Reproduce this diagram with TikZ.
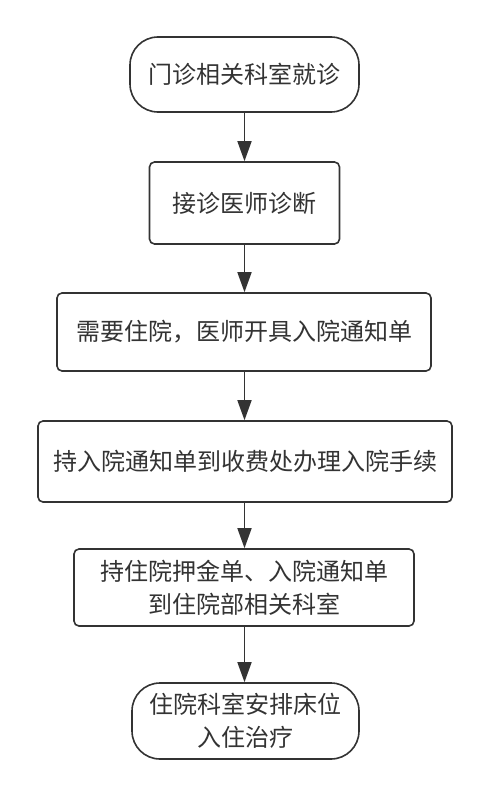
\documentclass[tikz,border=0pt]{standalone}
\usepackage{fontspec}
\setmainfont{Noto Sans CJK SC}
\usetikzlibrary{arrows.meta}
\definecolor{ink}{HTML}{333333}
\begin{document}
\begin{tikzpicture}[x=1pt,y=-1pt,
  base/.style={draw=ink, line width=1.6pt, fill=white, text=ink, align=center,
    font=\fontsize{24}{33}\selectfont, inner sep=0pt},
  term/.style={base, rounded corners=28pt},
  proc/.style={base, rounded corners=5pt},
  flow/.style={draw=ink, line width=1.6pt, -{Triangle[length=20pt,width=14pt]}}]
\path[use as bounding box, fill=white] (0,0) rectangle (489,797);
\node[term, minimum width=229pt, minimum height=75pt] (n1) at (244.5,74.5) {门诊相关科室就诊};
\node[proc, minimum width=190pt, minimum height=82pt] (n2) at (244.5,203) {接诊医师诊断};
\node[proc, minimum width=374pt, minimum height=78pt] (n3) at (244,332) {需要住院，医师开具入院通知单};
\node[proc, minimum width=414pt, minimum height=81pt] (n4) at (245,461.5) {持入院通知单到收费处办理入院手续};
\node[proc, minimum width=340pt, minimum height=77pt] (n5) at (244,587.5) {持住院押金单、入院通知单\\到住院部相关科室};
\node[term, minimum width=227pt, minimum height=76pt] (n6) at (245.5,721) {住院科室安排床位\\入住治疗};
\draw[flow] (n1.south) -- (n2.north);
\draw[flow] (n2.south) -- (n3.north -| n2.south);
\draw[flow] (n3.south -| n2.south) -- (n4.north -| n2.south);
\draw[flow] (n4.south -| n2.south) -- (n5.north -| n2.south);
\draw[flow] (n5.south -| n2.south) -- (n6.north -| n2.south);
\end{tikzpicture}
\end{document}
